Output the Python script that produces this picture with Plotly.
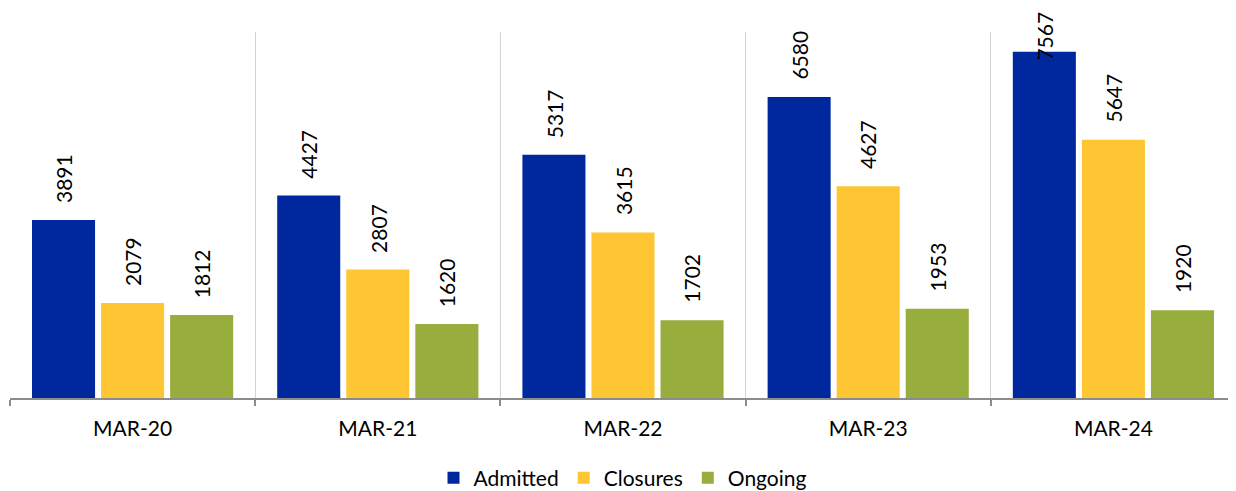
import plotly.graph_objects as go

categories = ["MAR-20", "MAR-21", "MAR-22", "MAR-23", "MAR-24"]
admitted = [3891, 4427, 5317, 6580, 7567]
closures = [2079, 2807, 3615, 4627, 5647]
ongoing = [1812, 1620, 1702, 1953, 1920]

series = [
    ("Admitted", admitted, "#00289E"),
    ("Closures", closures, "#FFC634"),
    ("Ongoing", ongoing, "#97AD3D"),
]

# the page body adds an 8px offset, so the figure is sized to fit the window
PAGE_OFF = 8
W, H = 1228, 483
ML, MR, MT, MB = 2, 0, 24, 93
YMAX = 8000
BARGAP = 0.155
GROUPGAP = 0.087
FONT = "Lato"
LABEL_SIZE = 21
LABEL_MIN_TOP = 12  # labels are kept below this page line, as in the original

plot_w = W - ML - MR
plot_h = H - MT - MB
cat_w = plot_w / len(categories)
pitch = cat_w * (1 - BARGAP) / len(series)
px_per_unit = plot_h / YMAX
label_len = LABEL_SIZE * 0.58 * 4 + 2

fig = go.Figure()
annotations = []
for i, (name, vals, color) in enumerate(series):
    fig.add_trace(go.Bar(
        name=name, x=categories, y=vals, marker=dict(color=color, line=dict(width=0)),
    ))
    off = (i - (len(series) - 1) / 2) * pitch
    for c, v in zip(categories, vals):
        top_px = PAGE_OFF + MT + plot_h - v * px_per_unit
        shift = 15
        if top_px - shift - label_len < LABEL_MIN_TOP:
            shift = top_px - label_len - LABEL_MIN_TOP
        annotations.append(dict(
            x=c, y=v, xref="x", yref="y", text=str(v), showarrow=False,
            textangle=-90, xanchor="center", yanchor="bottom",
            xshift=off, yshift=shift,
            font=dict(family=FONT, size=LABEL_SIZE, color="#000000"),
        ))

fig.update_layout(
    width=W, height=H,
    margin=dict(l=ML, r=MR, t=MT, b=MB, autoexpand=False),
    paper_bgcolor="white", plot_bgcolor="white",
    barmode="group", bargap=BARGAP, bargroupgap=GROUPGAP,
    annotations=annotations,
    showlegend=True,
    legend=dict(
        orientation="h", x=0.5, xanchor="center", y=-0.219, yanchor="middle",
        font=dict(family=FONT, size=21, color="#000000"),
        traceorder="normal", itemsizing="constant",
    ),
    font=dict(family=FONT),
)
fig.update_xaxes(
    type="category", tickson="boundaries", automargin=False,
    showgrid=True, gridcolor="#D4D4D4", gridwidth=1,
    showline=True, linecolor="#8C8C8C", linewidth=2,
    ticks="outside", ticklen=6, tickcolor="#8C8C8C", tickwidth=1.5,
    tickfont=dict(family=FONT, size=21, color="#000000"),
    ticklabelstandoff=11,
)
fig.update_yaxes(
    range=[0, YMAX], visible=False, showgrid=False, zeroline=False,
)

fig.write_html("out.html")
